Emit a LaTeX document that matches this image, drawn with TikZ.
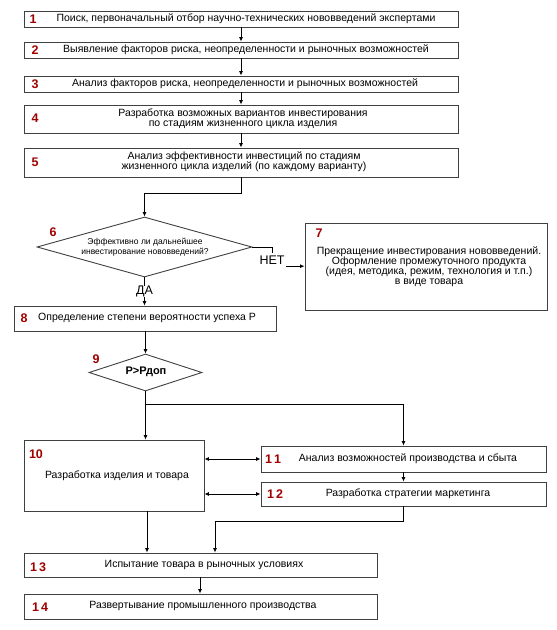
\documentclass[tikz,border=0pt]{standalone}
\usepackage{fontspec}
\setmainfont{Liberation Sans}
\usetikzlibrary{shapes.geometric,arrows.meta}
\definecolor{numred}{HTML}{A00000}
\definecolor{edge}{HTML}{404040}
\tikzset{
  box/.style={draw=edge, line width=0.9pt, rectangle, inner sep=0pt, fill=white},
  dia/.style={draw=edge, line width=0.9pt, diamond, inner sep=0pt, fill=white},
  num/.style={font=\bfseries\fontsize{12.5}{12.5}\selectfont, text=numred, inner sep=0pt},
  lbl/.style={font=\fontsize{10.5}{10}\selectfont, inner sep=0pt, align=center},
  yn/.style={font=\fontsize{12.5}{12.5}\selectfont, inner sep=0pt, minimum height=11pt},
  conn/.style={draw=black, line width=0.8pt},
  arr/.style={conn, -{Latex[length=4.5pt,width=4pt]}},
  darr/.style={conn, {Latex[length=4.5pt,width=4pt]}-{Latex[length=4.5pt,width=4pt]}}
}
\begin{document}
\begin{tikzpicture}[x=1pt,y=-1pt]
\useasboundingbox (0,0) rectangle (557,630);
% boxes
\node[box, minimum width=434pt, minimum height=16pt] (b1) at (241,19) {};
\node[box, minimum width=434pt, minimum height=16pt] (b2) at (241,50) {};
\node[box, minimum width=434pt, minimum height=16pt] (b3) at (241,84) {};
\node[box, minimum width=434pt, minimum height=28pt] (b4) at (241,119) {};
\node[box, minimum width=434pt, minimum height=29pt] (b5) at (241,162.5) {};
\node[dia, minimum width=215pt, minimum height=60pt, shape aspect=3.58] (d6) at (144.5,247) {};
\node[box, minimum width=242pt, minimum height=87pt] (b7) at (426,266.5) {};
\node[box, minimum width=262pt, minimum height=25pt] (b8) at (145,318.5) {};
\node[dia, minimum width=113pt, minimum height=37pt, shape aspect=3.05] (d9) at (145.5,372.5) {};
\node[box, minimum width=180pt, minimum height=71pt] (b10) at (114,475.5) {};
\node[box, minimum width=285pt, minimum height=26pt] (b11) at (403.5,459) {};
\node[box, minimum width=285pt, minimum height=24pt] (b12) at (403.5,494) {};
\node[box, minimum width=353pt, minimum height=24pt] (b13) at (200.5,565) {};
\node[box, minimum width=353pt, minimum height=25pt] (b14) at (200.5,606.5) {};
% texts
\node[lbl] (t1) at (246,19) {Поиск, первоначальный отбор научно-технических нововведений экспертами};
\node[lbl] (t2) at (246,50) {Выявление факторов риска, неопределенности и рыночных возможностей};
\node[lbl] (t3) at (245,84) {Анализ факторов риска, неопределенности и рыночных возможностей};
\node[lbl] (t4) at (243,118.5) {Разработка возможных вариантов инвестирования\\по стадиям жизненного цикла изделия};
\node[lbl] (t5) at (244,161.5) {Анализ эффективности инвестиций по стадиям\\жизненного цикла изделий (по каждому варианту)};
\node[lbl, font=\fontsize{8.5}{10}\selectfont] (t6) at (145,247.5) {Эффективно ли дальнейшее\\инвестирование нововведений?};
\node[lbl, font=\fontsize{10.5}{9.8}\selectfont] (t7) at (429,266.5) {Прекращение инвестирования нововведений.\\Оформление промежуточного продукта\\(идея, методика, режим, технология и т.п.)\\в виде товара};
\node[lbl, anchor=west] (t8) at (38,317.5) {Определение степени вероятности успеха Р};
\node[lbl, font=\bfseries\fontsize{11}{11}\selectfont] (t9) at (146,371.5) {Р>Рдоп};
\node[lbl] (t10) at (117,475.5) {Разработка изделия и товара};
\node[lbl] (t11) at (408,459) {Анализ возможностей производства и сбыта};
\node[lbl] (t12) at (408,494) {Разработка стратегии маркетинга};
\node[lbl] (t13) at (204,565) {Испытание товара в рыночных условиях};
\node[lbl] (t14) at (203,606) {Развертывание промышленного производства};
% numbers
\node[num] (n1) at (33,19.5) {1};
\node[num] (n2) at (35,50.5) {2};
\node[num] (n3) at (35,84.5) {3};
\node[num] (n4) at (35,118.5) {4};
\node[num] (n5) at (35,162.5) {5};
\node[num] (n6) at (53,232.5) {6};
\node[num] (n7) at (319,233.5) {7};
\node[num] (n8) at (24,318) {8};
\node[num] (n9) at (96,359) {9};
\node[num] (n10) at (36,454) {10};
\node[num] (n11) at (273,459.5) {1\,1};
\node[num] (n12) at (275,494.5) {1\,2};
\node[num] (n13) at (38,567) {1\,3};
\node[num] (n14) at (40,607) {1\,4};
% yes / no labels
\node[yn] (net) at (272,260.5) {НЕТ};
\node[yn] (da) at (144.5,291.5) {ДА};
% coordinates
\coordinate (c5) at (241,193);
\coordinate (c6) at (144.5,193);
\coordinate (cn) at (272,247);
\coordinate (cn2) at (272,253);
\coordinate (j) at (145.5,404);
\coordinate (j2) at (403.5,404);
\coordinate (c12) at (403.5,521);
\coordinate (c13) at (215,521);
% connectors
\draw[arr] (b1) -- (b2);
\draw[arr] (b2) -- (b3);
\draw[arr] (b3) -- (b4);
\draw[arr] (b4) -- (b5);
\draw[conn] (b5.south) -- (c5) -- (c6);
\draw[arr] (c6) -- (d6.north);
\draw[conn] (d6.east) -- (cn) -- (cn2);
\draw[arr] (net.south east) ++(1pt,0) -- (b7.west |- net.south east);
\draw[conn] (d6.south) -- (da.north);
\draw[arr] (da.south) -- (b8.north -| da.south);
\draw[arr] (b8.south -| d9.north) -- (d9.north);
\draw[conn] (d9.south) -- (j);
\draw[arr] (j) -- (b10.north -| j);
\draw[conn] (j) -- (j2);
\draw[arr] (j2) -- (b11.north);
\draw[darr] (b10.east |- b11.west) -- (b11.west);
\draw[darr] (b10.east |- b12.west) -- (b12.west);
\draw[arr] (b11.south) -- (b12.north);
\draw[conn] (b12.south) -- (c12) -- (c13);
\draw[arr] (c13) -- (b13.north -| c13);
\draw[arr] (b10.south -| 147,0) -- (b13.north -| 147,0);
\draw[arr] (b13.south -| 200,0) -- (b14.north -| 200,0);
\end{tikzpicture}
\end{document}
